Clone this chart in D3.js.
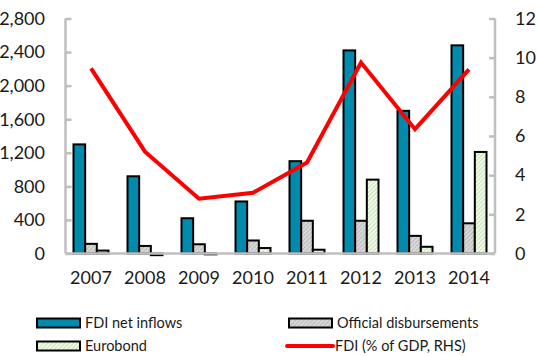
<!DOCTYPE html>
<html>
<head>
<meta charset="utf-8">
<script src="https://cdn.jsdelivr.net/npm/d3@7"></script>
<style>
  html, body { margin: 0; padding: 0; background: #fff; }
  svg text { font-family: Lato, "Open Sans", sans-serif; fill: #1a1a1a; }
</style>
</head>
<body>
<svg id="chart" width="537" height="356"></svg>
<script>
// Annual flows (US$ million) and FDI share of GDP
const years = ["2007", "2008", "2009", "2010", "2011", "2012", "2013", "2014"];
const fdiInflows = [1300, 920, 420, 620, 1100, 2420, 1700, 2480];
const officialDisb = [115, 90, 110, 155, 390, 390, 210, 360];
const eurobond = [35, -20, -10, 65, 45, 880, 80, 1210];
const fdiPctGdp = [9.45, 5.2, 2.8, 3.1, 4.65, 9.75, 6.35, 9.4];
const leftTicks = [0, 400, 800, 1200, 1600, 2000, 2400, 2800];
const rightTicks = [0, 2, 4, 6, 8, 10, 12];

const svg = d3.select("#chart");
const axisColor = "#bfbfbf";

const plot = { left: 64, right: 496, top: 18.5, bottom: 253.5 };
const axisLeftX = 65.5, axisRightX = 495;

const x = d3.scaleBand().domain(years).range([plot.left, plot.right]);
const seriesKeys = ["fdi", "official", "euro"];
const groupWidth = 35;
const xInner = d3.scaleBand().domain(seriesKeys).range([-groupWidth / 2, groupWidth / 2]);
const yL = d3.scaleLinear().domain([0, 2800]).range([plot.bottom, plot.top]);
const yR = d3.scaleLinear().domain([0, 12]).range([plot.bottom, plot.top]);

// Hatched fills
const defs = svg.append("defs");
function hatch(id, bg, fg) {
  const p = defs.append("pattern").attr("id", id)
    .attr("patternUnits", "userSpaceOnUse").attr("width", 3).attr("height", 3)
    .attr("patternTransform", "rotate(45)");
  p.append("rect").attr("width", 3).attr("height", 3).attr("fill", bg);
  p.append("line").attr("x1", 0).attr("y1", 0).attr("x2", 0).attr("y2", 3)
    .attr("stroke", fg).attr("stroke-width", 1.2);
}
hatch("hatchGray", "#d9d9d9", "#a6a6a6");
hatch("hatchGreen", "#f2f9ea", "#a9d68c");

const fills = { fdi: "#008aad", official: "url(#hatchGray)", euro: "url(#hatchGreen)" };
const data = { fdi: fdiInflows, official: officialDisb, euro: eurobond };

// Axes (drawn with d3 axis generators, restyled)
const gL = svg.append("g").attr("transform", `translate(${axisLeftX},0)`)
  .call(d3.axisRight(yL).tickValues(leftTicks).tickSize(6).tickFormat(""));
gL.select(".domain").remove();
gL.selectAll(".tick line").attr("stroke", axisColor).attr("stroke-width", 2.5);
svg.append("line").attr("x1", axisLeftX).attr("x2", axisLeftX)
  .attr("y1", yL(2800)).attr("y2", yL(0)).attr("stroke", axisColor).attr("stroke-width", 2.5);

const gR = svg.append("g").attr("transform", `translate(${axisRightX},0)`)
  .call(d3.axisLeft(yR).tickValues(rightTicks).tickSize(6).tickFormat(""));
gR.select(".domain").remove();
gR.selectAll(".tick line").attr("stroke", axisColor).attr("stroke-width", 2.5);
svg.append("line").attr("x1", axisRightX).attr("x2", axisRightX)
  .attr("y1", yR(12)).attr("y2", yR(0)).attr("stroke", axisColor).attr("stroke-width", 2.5);

// Tick labels
const fmt = d3.format(",");
svg.append("g").selectAll("text").data(leftTicks).join("text")
  .attr("x", 45).attr("y", d => yL(d)).attr("dy", "0.35em")
  .attr("text-anchor", "end").attr("font-size", 18).text(d => fmt(d));
svg.append("g").selectAll("text").data(rightTicks).join("text")
  .attr("x", 515).attr("y", d => yR(d)).attr("dy", "0.35em")
  .attr("text-anchor", "start").attr("font-size", 18).text(d => d);
svg.append("g").selectAll("text").data(years).join("text")
  .attr("x", d => x(d) + x.bandwidth() / 2).attr("y", 284)
  .attr("text-anchor", "middle").attr("font-size", 18).text(d => d);

// Bars
const bars = svg.append("g");
seriesKeys.forEach(k => {
  bars.append("g").selectAll("rect").data(years).join("rect")
    .attr("x", d => x(d) + x.bandwidth() / 2 + xInner(k))
    .attr("width", xInner.bandwidth())
    .attr("y", (d, i) => Math.min(yL(data[k][i]), yL(0)))
    .attr("height", (d, i) => Math.abs(yL(data[k][i]) - yL(0)))
    .attr("fill", fills[k]).attr("stroke", "#000").attr("stroke-width", 2);
});

// Baseline
svg.append("line").attr("x1", axisLeftX).attr("x2", axisRightX)
  .attr("y1", yL(0)).attr("y2", yL(0)).attr("stroke", axisColor).attr("stroke-width", 2.5);

// FDI % of GDP line
const line = d3.line().x((d, i) => x(years[i]) + x.bandwidth() / 2).y(d => yR(d));
svg.append("path").datum(fdiPctGdp).attr("d", line)
  .attr("fill", "none").attr("stroke", "#ff0000").attr("stroke-width", 4)
  .attr("stroke-linejoin", "miter");

// Legend
const legend = [
  { label: "FDI net inflows", type: "rect", fill: fills.fdi, x: 37, y: 323 },
  { label: "Official disbursements", type: "rect", fill: fills.official, x: 289, y: 323 },
  { label: "Eurobond", type: "rect", fill: fills.euro, x: 37, y: 346 },
  { label: "FDI (% of GDP, RHS)", type: "line", x: 287, y: 346 }
];
const lg = svg.append("g");
legend.forEach(e => {
  if (e.type === "rect") {
    lg.append("rect").attr("x", e.x).attr("y", e.y - 4.5).attr("width", 43).attr("height", 9)
      .attr("fill", e.fill).attr("stroke", "#000").attr("stroke-width", 2);
  } else {
    lg.append("line").attr("x1", e.x).attr("x2", e.x + 46).attr("y1", e.y).attr("y2", e.y)
      .attr("stroke", "#ff0000").attr("stroke-width", 4).attr("stroke-linecap", "round");
  }
  lg.append("text").attr("x", e.x + 48).attr("y", e.y).attr("dy", "0.35em")
    .attr("font-size", 14.5).text(e.label);
});
</script>
</body>
</html>
